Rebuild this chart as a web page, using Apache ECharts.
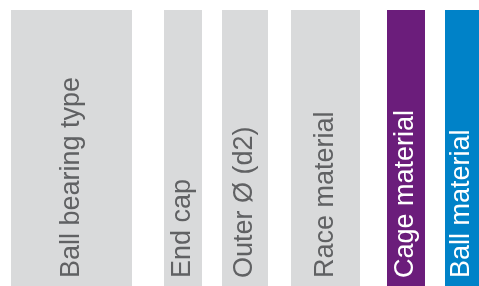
<!DOCTYPE html>
<html>
<head>
<meta charset="utf-8" />
<title>Ball bearing designation</title>
<script src="https://cdn.jsdelivr.net/npm/echarts@6/dist/echarts.min.js"></script>
<style>
  html, body { margin: 0; padding: 0; background: #fff; }
  #chart { width: 479px; height: 286px; }
</style>
</head>
<body>
<div id="chart"></div>
<script>
// segments of the designation code, left to right
const labels = ['Ball bearing type', 'End cap', 'Outer \u00d8 (d2)', 'Race material', 'Cage material', 'Ball material'];
const starts = [11, 164, 222, 291, 387, 445];
const ends = [132, 202, 268, 360, 425, 479];
const highlighted = [false, false, false, false, true, true];
const fills = ['#d9dadb', '#d9dadb', '#d9dadb', '#d9dadb', '#6b1d7b', '#0082c8'];

const chart = echarts.init(document.getElementById('chart'));

const data = labels.map(function (name, i) {
  return [starts[i], ends[i], 0, 1, i];
});

chart.setOption({
  animation: false,
  grid: { left: 0, right: 0, top: 10, bottom: 0 },
  xAxis: { type: 'value', min: 0, max: 479, show: false },
  yAxis: { type: 'value', min: 0, max: 1, show: false },
  series: [{
    type: 'custom',
    data: data,
    renderItem: function (params, api) {
      const i = api.value(4);
      const p0 = api.coord([api.value(0), api.value(3)]);
      const p1 = api.coord([api.value(1), api.value(2)]);
      const cx = (p0[0] + p1[0]) / 2;
      return {
        type: 'group',
        children: [{
          type: 'rect',
          shape: { x: p0[0], y: p0[1], width: p1[0] - p0[0], height: p1[1] - p0[1] },
          style: { fill: fills[i] }
        }, {
          type: 'text',
          x: cx,
          y: p1[1] - 8,
          rotation: Math.PI / 2,
          style: {
            text: labels[i],
            fill: highlighted[i] ? '#ffffff' : '#606163',
            font: '27px "Liberation Sans", Arial, sans-serif',
            align: 'left',
            verticalAlign: 'middle'
          }
        }]
      };
    }
  }]
});
</script>
</body>
</html>
